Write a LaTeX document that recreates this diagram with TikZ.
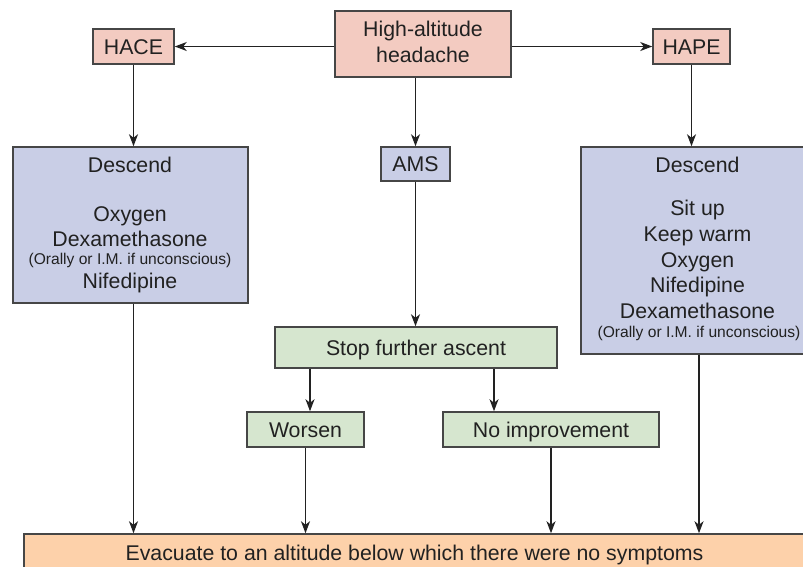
\documentclass[tikz,border=0pt]{standalone}
\usepackage{fontspec}
\setmainfont{Liberation Sans}
\usetikzlibrary{arrows.meta}

\definecolor{boxline}{HTML}{464646}
\definecolor{arrowline}{HTML}{222222}
\definecolor{fillpink}{HTML}{F3CBC1}
\definecolor{fillblue}{HTML}{C9CEE6}
\definecolor{fillgreen}{HTML}{D6E6CF}
\definecolor{fillorange}{HTML}{FDD1AA}

\newcommand{\bigtext}{\fontsize{21.3}{25}\selectfont}
\newcommand{\smalltext}{\fontsize{15.6}{18}\selectfont}

\tikzset{
  x=1pt, y=1pt,
  box/.style={draw=boxline, line width=1.5pt, rectangle, inner sep=0pt,
    font=\bigtext, text=black!87, text height=15.2pt, text depth=0pt},
  pinkbox/.style={box, fill=fillpink},
  bluebox/.style={box, fill=fillblue},
  greenbox/.style={box, fill=fillgreen},
  orangebox/.style={box, fill=fillorange},
  line/.style={anchor=base, inner sep=0pt, font=\bigtext, text=black!87},
  smallline/.style={anchor=base, inner sep=0pt, font=\smalltext, text=black!87},
  arrow/.style={draw=arrowline, line width=1.4pt,
    -{Stealth[length=12pt, width=9pt, inset=3.5pt]}}
}

\begin{document}
\begin{tikzpicture}
\useasboundingbox (0,0) rectangle (803,-566);

% boxes
\node[pinkbox, minimum width=176pt, minimum height=66pt] (top) at (423,-44) {};
\node[line] (topA) at (423,-36.7) {High-altitude};
\node[line] (topB) at (423,-62.7) {headache};

\node[pinkbox, minimum width=81pt, minimum height=35pt] (hace) at (133.5,-46.5) {HACE};
\node[pinkbox, minimum width=77pt, minimum height=35pt] (hape) at (691.5,-46.5) {HAPE};
\node[bluebox, minimum width=69pt, minimum height=34pt] (ams) at (415.5,-164) {AMS};

\node[bluebox, minimum width=235pt, minimum height=156pt] (ldesc) at (130.5,-225) {};
\node[line] (l1) at (130,-172.7) {Descend};
\node[line] (l2) at (130,-221) {Oxygen};
\node[line] (l3) at (130,-246) {Dexamethasone};
\node[smallline] (l4) at (130,-264) {(Orally or I.M. if unconscious)};
\node[line] (l5) at (130,-288) {Nifedipine};

\node[bluebox, minimum width=236pt, minimum height=207pt] (rdesc) at (699,-250.5) {};
\node[line] (r1) at (697.5,-172.7) {Descend};
\node[line] (r2) at (697.5,-215) {Sit up};
\node[line] (r3) at (697.5,-241.5) {Keep warm};
\node[line] (r4) at (697.5,-267.5) {Oxygen};
\node[line] (r5) at (697.5,-292.7) {Nifedipine};
\node[line] (r6) at (697.5,-318) {Dexamethasone};
\node[smallline] (r7) at (699,-337) {(Orally or I.M. if unconscious)};

\node[greenbox, minimum width=282pt, minimum height=41pt] (stop) at (416,-347.5) {Stop further ascent};
\node[greenbox, minimum width=117pt, minimum height=35pt] (worsen) at (305.5,-429.5) {Worsen};
\node[greenbox, minimum width=216pt, minimum height=35pt] (noimp) at (551,-429.5) {No improvement};

\node[orangebox, minimum width=781pt, minimum height=38pt] (evac) at (414.5,-553)
  {Evacuate to an altitude below which there were no symptoms};

% column positions for the branch arrows
\coordinate (colW) at (310,0);
\coordinate (colN) at (494,0);

% connectors
\draw[arrow] (top.west |- hace) -- (hace.east);
\draw[arrow] (top.east |- hape) -- (hape.west);
\draw[arrow] (top.south -| ams) -- (ams.north);
\draw[arrow] (hace.south) -- (ldesc.north -| hace);
\draw[arrow] (hape.south) -- (rdesc.north -| hape);
\draw[arrow] (ams.south) -- (stop.north -| ams);
\draw[arrow] (stop.south -| colW) -- (worsen.north -| colW);
\draw[arrow] (stop.south -| colN) -- (noimp.north -| colN);
\draw[arrow] (ldesc.south -| hace) -- (evac.north -| hace);
\draw[arrow] (worsen.south) -- (evac.north -| worsen);
\draw[arrow] (noimp.south) -- (evac.north -| noimp);
\draw[arrow] (rdesc.south) -- (evac.north -| rdesc);
\end{tikzpicture}
\end{document}
